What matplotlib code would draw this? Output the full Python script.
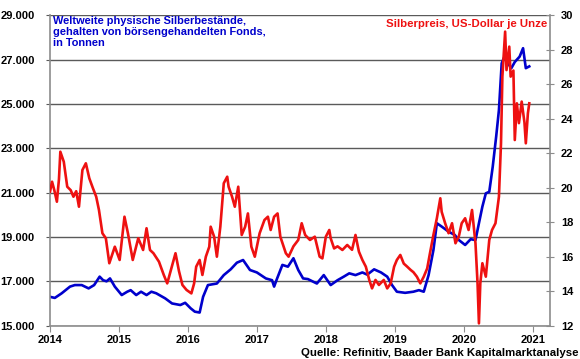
#!/usr/bin/env python3
"""
Silber-ETF-Bestaende (Tonnen) vs. Silberpreis (USD je Unze), 2014-2020.
"""

import matplotlib
matplotlib.use('Agg')
import matplotlib.pyplot as plt

# --- data ---
# ETF holdings, tonnes (left axis)
etf_years = [
    2014.00, 2014.07, 2014.17, 2014.29, 2014.36, 2014.46, 2014.56, 2014.64, 2014.72, 2014.77,
    2014.82, 2014.87, 2014.94, 2015.04, 2015.12, 2015.17, 2015.25, 2015.32, 2015.40, 2015.47,
    2015.54, 2015.67, 2015.77, 2015.89, 2015.96, 2016.04, 2016.10, 2016.17, 2016.22, 2016.29,
    2016.42, 2016.52, 2016.62, 2016.71, 2016.80, 2016.90, 2017.00, 2017.13, 2017.22, 2017.25,
    2017.29, 2017.37, 2017.45, 2017.53, 2017.60, 2017.67, 2017.74, 2017.87, 2017.97, 2018.07,
    2018.17, 2018.26, 2018.34, 2018.43, 2018.53, 2018.60, 2018.70, 2018.80, 2018.89, 2018.96,
    2019.03, 2019.15, 2019.27, 2019.35, 2019.42, 2019.49, 2019.56, 2019.61, 2019.68, 2019.78,
    2019.87, 2019.93, 2020.02, 2020.10, 2020.17, 2020.22, 2020.27, 2020.32, 2020.37, 2020.42,
    2020.47, 2020.51, 2020.55, 2020.59, 2020.64, 2020.69, 2020.74, 2020.81, 2020.86, 2020.90,
    2020.95,
]
etf_tonnes = [
    16300, 16250, 16460, 16760, 16830, 16830, 16680, 16830, 17210, 17050,
    17000, 17130, 16760, 16380, 16530, 16600, 16380, 16530, 16380, 16530,
    16460, 16230, 16000, 15930, 16030, 15780, 15630, 15590, 16300, 16830,
    16900, 17280, 17540, 17840, 17960, 17510, 17400, 17130, 17050, 16760,
    17100, 17740, 17660, 18040, 17510, 17130, 17100, 16900, 17280, 16830,
    17050, 17210, 17360, 17280, 17400, 17300, 17540, 17400, 17210, 16830,
    16530, 16480, 16530, 16600, 16530, 17280, 18410, 19620, 19470, 19240,
    19090, 18860, 18640, 18900, 18860, 19620, 20370, 20970, 21040, 22170,
    23530, 24730, 26840, 27140, 26840, 26620, 26900, 27140, 27520, 26620,
    26700,
]

# silver price, USD per ounce (right axis)
price_years = [
    2014.00, 2014.03, 2014.06, 2014.10, 2014.13, 2014.15, 2014.20, 2014.25, 2014.30, 2014.34,
    2014.38, 2014.42, 2014.47, 2014.52, 2014.57, 2014.62, 2014.67, 2014.71, 2014.76, 2014.81,
    2014.86, 2014.94, 2015.01, 2015.08, 2015.13, 2015.20, 2015.28, 2015.35, 2015.40, 2015.45,
    2015.50, 2015.58, 2015.65, 2015.70, 2015.75, 2015.82, 2015.87, 2015.92, 2015.98, 2016.05,
    2016.09, 2016.12, 2016.17, 2016.21, 2016.26, 2016.31, 2016.33, 2016.38, 2016.42, 2016.47,
    2016.52, 2016.57, 2016.59, 2016.64, 2016.68, 2016.73, 2016.78, 2016.83, 2016.87, 2016.92,
    2016.97, 2017.04, 2017.11, 2017.16, 2017.20, 2017.25, 2017.30, 2017.34, 2017.42, 2017.46,
    2017.53, 2017.60, 2017.65, 2017.70, 2017.77, 2017.84, 2017.91, 2017.95, 2018.00, 2018.05,
    2018.07, 2018.12, 2018.17, 2018.24, 2018.31, 2018.38, 2018.43, 2018.48, 2018.53, 2018.58,
    2018.63, 2018.67, 2018.72, 2018.77, 2018.84, 2018.89, 2018.94, 2018.99, 2019.03, 2019.08,
    2019.13, 2019.18, 2019.23, 2019.27, 2019.32, 2019.37, 2019.42, 2019.47, 2019.51, 2019.56,
    2019.61, 2019.66, 2019.68, 2019.73, 2019.78, 2019.83, 2019.88, 2019.93, 2019.97, 2020.02,
    2020.07, 2020.12, 2020.17, 2020.20, 2020.22, 2020.24, 2020.27, 2020.32, 2020.37, 2020.41,
    2020.46, 2020.51, 2020.54, 2020.56, 2020.60, 2020.62, 2020.66, 2020.68, 2020.72, 2020.74,
    2020.77, 2020.80, 2020.84, 2020.88, 2020.90, 2020.93, 2020.95,
]
price_usd = [
    19.77, 20.35, 19.90, 19.19, 20.50, 22.09, 21.51, 20.06, 19.86, 19.48,
    19.80, 18.90, 21.03, 21.42, 20.55, 20.00, 19.48, 18.71, 17.36, 17.07,
    15.62, 16.58, 15.81, 18.32, 17.36, 15.81, 17.07, 16.39, 17.65, 16.39,
    16.20, 15.71, 14.94, 14.45, 15.17, 16.20, 15.17, 14.36, 14.07, 13.87,
    14.45, 15.42, 15.81, 14.94, 16.00, 16.58, 17.74, 17.16, 16.00, 17.74,
    20.26, 20.64, 20.06, 19.48, 18.90, 20.06, 17.26, 17.74, 18.51, 16.58,
    16.00, 17.36, 18.13, 18.32, 17.55, 18.32, 18.51, 17.16, 16.20, 16.00,
    16.60, 16.97, 17.94, 17.26, 16.97, 17.16, 16.00, 15.90, 17.16, 17.55,
    17.07, 16.48, 16.60, 16.39, 16.68, 16.40, 17.26, 16.29, 15.81, 15.42,
    14.65, 14.16, 14.65, 14.36, 14.65, 14.16, 14.45, 15.42, 15.81, 16.10,
    15.60, 15.42, 15.23, 15.10, 14.84, 14.45, 14.84, 15.32, 16.20, 17.26,
    18.23, 19.39, 18.60, 17.94, 17.36, 17.94, 16.78, 17.20, 17.94, 18.23,
    17.55, 18.71, 16.78, 14.45, 12.13, 14.45, 15.62, 14.84, 16.97, 17.55,
    17.94, 19.48, 22.58, 26.45, 29.06, 26.83, 28.19, 26.45, 26.80, 22.77,
    24.90, 23.75, 25.00, 23.80, 22.58, 24.32, 24.90,
]

year_ticks = [2014, 2015, 2016, 2017, 2018, 2019, 2020, 2021]
left_ticks = [15000, 17000, 19000, 21000, 23000, 25000, 27000, 29000]
right_ticks = [12, 14, 16, 18, 20, 22, 24, 26, 28, 30]

BLUE = '#0000CC'
RED = '#EE1111'
GRID = '#5a5a5a'
SPINE = '#8c8c8c'

plt.rcParams['font.family'] = ['Liberation Sans', 'DejaVu Sans']
plt.rcParams['font.weight'] = 'bold'

fig = plt.figure(figsize=(5.8, 3.59), dpi=100)
ax = fig.add_axes([0.0862, 0.093, 0.862, 0.864])

ax.plot(etf_years, etf_tonnes, color=BLUE, linewidth=1.9)
ax.set_xlim(2014, 2021.25)
ax.set_ylim(15000, 29000)
ax.set_yticks(left_ticks)
ax.set_yticklabels([f"{v:,}".replace(',', '.') for v in left_ticks])
ax.set_xticks(year_ticks)
ax.set_xticklabels([str(y) for y in year_ticks])
ax.grid(True, axis='y', color=GRID, linewidth=1.0)
ax.set_axisbelow(True)
ax.tick_params(axis='y', length=3, color=GRID, pad=8, labelsize=8)
ax.tick_params(axis='x', length=4, color=SPINE, pad=3, labelsize=8)

for side in ['left', 'bottom']:
    ax.spines[side].set_color(SPINE)
    ax.spines[side].set_linewidth(1.2)
ax.spines['top'].set_visible(False)
ax.spines['right'].set_visible(False)

ax2 = ax.twinx()
ax2.plot(price_years, price_usd, color=RED, linewidth=1.9)
ax2.set_ylim(12, 30)
ax2.set_yticks(right_ticks)
ax2.set_yticklabels([str(v) for v in right_ticks])
ax2.tick_params(axis='y', direction='inout', length=6, color=SPINE, pad=5, labelsize=8)
ax2.spines['right'].set_color(SPINE)
ax2.spines['right'].set_linewidth(1.2)
for side in ['left', 'top', 'bottom']:
    ax2.spines[side].set_visible(False)

# labels
fig.text(0.0914, 0.955, "Weltweite physische Silberbestände,\ngehalten von börsengehandelten Fonds,\nin Tonnen",
         color=BLUE, fontsize=7.9, fontweight='bold', ha='left', va='top', linespacing=1.1)
fig.text(0.943, 0.933, "Silberpreis, US-Dollar je Unze", color=RED, fontsize=8.2,
         fontweight='bold', ha='right', va='center')
fig.text(0.997, 0.018, "Quelle: Refinitiv, Baader Bank Kapitalmarktanalyse", color='black',
         fontsize=8.2, fontweight='bold', ha='right', va='center')

fig.savefig('out.png', dpi=100)
